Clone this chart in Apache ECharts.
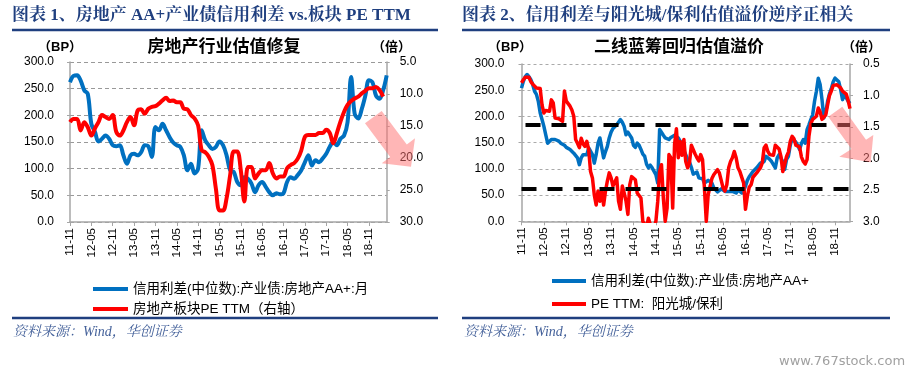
<!DOCTYPE html>
<html>
<head>
<meta charset="utf-8">
<script src="https://cdn.jsdelivr.net/npm/echarts@6/dist/echarts.min.js"></script>
<style>
html, body { margin: 0; padding: 0; background: #fff; }
#main { width: 916px; height: 375px; }
</style>
</head>
<body>
<div id="main"></div>
<script>
// 左图：月度，2011-11 起
var leftStart = [2011, 11];
var leftMonths = 90;
// 右图：半月，2011-11 起
var rightStart = [2011, 11];
var rightPoints = 177;

var tickLabels = ['11-11', '12-05', '12-11', '13-05', '13-11', '14-05', '14-11', '15-05',
		'15-11', '16-05', '16-11', '17-05', '17-11', '18-05', '18-11'];

// 图表1 信用利差(BP)
var spreadMonthly = [262, 274, 275, 265, 247, 240, 184, 169, 151, 156, 162, 156, 144, 142, 144,
		125, 109, 125, 128, 125, 131, 144, 142, 122, 178, 172, 184, 172, 159, 149, 144, 141, 125,
		97, 109, 91, 100, 172, 153, 144, 137, 141, 151, 144, 125, 97, 94, 75, 69, 84, 81, 72, 56,
		69, 75, 66, 56, 50, 54, 52, 54, 75, 84, 81, 88, 97, 112, 125, 106, 116, 112, 119, 128,
		141, 150, 144, 156, 162, 187, 272, 203, 194, 212, 237, 266, 262, 237, 231, 247, 275];
// 图表1 房地产板块 PE TTM (右轴)
var peSector = [14.4, 13.9, 13.9, 15.7, 14.4, 15.2, 16.5, 15.4, 14.4, 13.3, 13.6, 13.9, 13.3,
		15.9, 16.5, 15.7, 14.4, 13.6, 14.9, 12.6, 12.4, 13.1, 12.3, 12.0, 11.9, 11.5, 11.0, 10.6,
		11.1, 11.0, 11.3, 11.3, 12.3, 12.4, 13.3, 13.8, 14.9, 18.8, 19.1, 19.8, 21.1, 24.8, 28.2,
		28.2, 26.3, 22.7, 19.0, 19.0, 21.9, 26.8, 21.4, 21.4, 23.2, 22.4, 21.9, 21.9, 20.8, 22.4,
		23.2, 22.9, 22.9, 21.6, 21.1, 20.8, 20.1, 18.8, 16.7, 16.4, 16.4, 16.4, 16.1, 16.1, 15.6,
		16.1, 17.7, 16.1, 14.3, 12.8, 11.7, 11.1, 10.7, 10.4, 9.9, 9.5, 9.1, 9.1, 8.9, 9.4, 10.4,
		null];

// 图表2 信用利差(BP)，半月
var spreadHalf = [254, 267, 276, 280, 276, 270, 261, 248, 242, 229, 207, 194, 181, 165, 149,
		149, 156, 159, 156, 159, 153, 149, 146, 145, 141, 140, 137, 135, 130, 127, 121, 108, 121,
		127, 130, 127, 140, 143, 127, 111, 127, 149, 159, 140, 121, 133, 143, 159, 170, 177, 177,
		184, 189, 194, 189, 181, 165, 170, 167, 159, 145, 141, 149, 145, 137, 128, 124, 109, 102,
		107, 102, 105, 89, 73, 175, 178, 164, 159, 162, 156, 160, 159, 164, 167, 159, 153, 145,
		135, 127, 118, 113, 103, 90, 92, 94, 83, 80, 81, 73, 70, 78, 79, 73, 64, 60, 56, 54, 62,
		64, 57, 60, 57, 54, 57, 54, 54, 60, 58, 54, 58, 67, 78, 85, 88, 95, 92, 102, 105, 111, 108,
		114, 124, 127, 118, 114, 114, 102, 121, 127, 128, 114, 99, 118, 124, 145, 159, 160, 151,
		145, 137, 149, 156, 149, 175, 184, 194, 203, 229, 248, 273, 261, 232, 197, 207, 229, 243,
		253, 266, 273, 276, 266, 251, 232, 242, 245, 229, 225];
// 图表2 PE TTM：阳光城/保利 (右轴)
var peRatio = [0.80, 0.75, 0.71, 0.70, 0.71, 0.78, 0.82, 0.84, 0.88, 0.90, 0.89, 1.15, 1.28,
		1.24, 1.21, 1.25, 1.07, 1.12, 1.36, 1.38, 1.37, 1.37, 1.41, 0.93, 1.09, 1.12, 1.17, 1.23,
		1.33, 1.70, 1.76, 1.83, 1.68, 1.77, 1.81, 1.73, 1.86, 2.21, 2.31, 2.58, 2.74, 2.52, 2.68,
		2.52, 2.74, 2.52, 2.36, 2.23, 2.31, 2.44, 2.47, 2.31, 2.68, 2.81, 2.44, 2.55, 2.68, 2.89,
		2.42, 2.29, 2.26, 2.34, 2.55, 2.58, 2.63, 3.0, 3.05, 3.1, 2.95, 3.05, 3.2, 3.1, 3.0, 2.68,
		2.21, 2.10, 2.63, 3.0, 2.79, 1.94, 1.99, 2.79, 1.78, 1.53, 1.99, 1.73, 1.95, 1.70, 2.05,
		2.15, 2.07, 1.79, 1.82, 1.93, 1.99, 2.04, 1.94, 2.02, 2.47, 3.0, 2.58, 2.60, 2.32, 2.26,
		2.22, 2.18, 2.23, 2.25, 2.47, 2.52, 2.42, 2.15, 2.05, 1.99, 1.89, 1.99, 2.15, 2.21, 2.18,
		2.39, 2.81, 2.60, 2.46, 2.42, 2.30, 2.31, 2.23, 2.21, 2.15, 2.07, 1.83, 1.79, 1.89, 1.94,
		1.94, 1.95, 1.79, 1.76, 1.85, 1.97, 2.21, 2.23, 1.97, 1.90, 1.73, 1.65, 1.69, 1.79, 1.76,
		1.82, 1.98, 2.05, 2.09, 2.02, 1.65, 1.45, 1.38, 1.35, 1.33, 1.20, 1.26, 1.38, 1.41, 1.31,
		1.15, 1.00, 0.93, 0.84, 0.85, 0.83, 0.85, 0.88, 0.93, 0.91, 0.98, 1.08, 1.21];

// 两条估值溢价参考线(BP)
var refLevels = [185, 63];

var names1 = ['信用利差(中位数):产业债:房地产AA+:月', '房地产板块PE TTM（右轴）'];
var names2 = ['信用利差(中位数):产业债:房地产AA+', 'PE TTM:  阳光城/保利'];

function monthLabel(y, m) {
	return String(y).slice(2) + '-' + (m < 10 ? '0' + m : m);
}

var catsLeft = [];
for (var i = 0; i < leftMonths; i++) {
	var mm = leftStart[1] - 1 + i;
	catsLeft.push(monthLabel(leftStart[0] + Math.floor(mm / 12), mm % 12 + 1));
}
var catsRight = [];
for (var k = 0; k < rightPoints; k++) {
	var m2 = rightStart[1] - 1 + Math.floor(k / 2);
	var lab = monthLabel(rightStart[0] + Math.floor(m2 / 12), m2 % 12 + 1);
	catsRight.push(k % 2 === 0 ? lab : lab + '+');
}

var showTick = function(idx, val) {
	return tickLabels.indexOf(val) >= 0;
};

var FONT = "'Liberation Sans', 'Noto Sans CJK SC', sans-serif";
var BLUE = '#0070C0';
var RED = '#FF0000';

function xAxisCfg(gridIndex, cats) {
	return {
		type : 'category',
		gridIndex : gridIndex,
		data : cats,
		boundaryGap : false,
		axisLine : {
			lineStyle : {
				color : '#a6a6a6',
				width : 1.5
			}
		},
		axisTick : {
			interval : showTick,
			length : 4,
			lineStyle : {
				color : '#a6a6a6'
			}
		},
		axisLabel : {
			interval : showTick,
			rotate : 90,
			margin : 6,
			fontSize : 11.5,
			color : '#000',
			fontFamily : FONT
		},
		splitLine : {
			show : false
		}
	};
}

function yAxisCfg(gridIndex, pos, min, max, step, inverse, grid, margin) {
	return {
		type : 'value',
		gridIndex : gridIndex,
		position : pos,
		min : min,
		max : max,
		interval : step,
		inverse : inverse,
		axisLine : {
			show : true,
			lineStyle : {
				color : '#a6a6a6',
				width : 1.5
			}
		},
		axisTick : {
			show : true,
			length : 3,
			lineStyle : {
				color : '#a6a6a6'
			}
		},
		axisLabel : {
			margin : margin,
			fontSize : 12,
			color : '#000',
			fontFamily : FONT,
			formatter : function(v) {
				return v.toFixed(1);
			}
		},
		splitLine : {
			show : grid,
			lineStyle : {
				color : gridIndex === 0 ? '#999' : '#aaa',
				type : gridIndex === 0 ? [4, 3] : [3, 3],
				width : 1
			}
		}
	};
}

function txt(x, y, text, size, opts) {
	opts = opts || {};
	return {
		type : 'text',
		x : x,
		y : y,
		z : 10,
		style : {
			text : text,
			fontSize : size,
			fontWeight : opts.bold ? 'bold' : 'normal',
			fontStyle : opts.italic ? 'italic' : 'normal',
			fontFamily : opts.family || FONT,
			fill : opts.color || '#000',
			align : opts.align || 'left',
			verticalAlign : 'middle'
		}
	};
}

function rule(x1, x2, y) {
	return {
		type : 'line',
		z : 10,
		shape : {
			x1 : x1,
			y1 : y,
			x2 : x2,
			y2 : y
		},
		style : {
			stroke : '#1F3F7F',
			lineWidth : 2.5
		}
	};
}

function arrow(pts) {
	return {
		type : 'polygon',
		z : 20,
		shape : {
			points : pts
		},
		style : {
			fill : 'rgba(255, 110, 110, 0.5)'
		}
	};
}

var TITLE_FONT = "'Liberation Serif', 'Noto Serif CJK SC', 'Noto Sans CJK SC', serif";

var chartDom = document.getElementById('main');
var myChart = echarts.init(chartDom, null, {
	renderer : 'canvas'
});

var option = {
	animation : false,
	backgroundColor : '#fff',
	grid : [{
		left : 70,
		top : 62,
		width : 316.7,
		height : 160
	}, {
		left : 521.5,
		top : 64,
		width : 328.5,
		height : 157.3
	}],
	xAxis : [xAxisCfg(0, catsLeft), xAxisCfg(1, catsRight)],
	yAxis : [yAxisCfg(0, 'left', 0, 300, 50, false, true, 16),
			yAxisCfg(0, 'right', 5, 30, 5, true, false, 13),
			yAxisCfg(1, 'left', 0, 300, 50, false, true, 17),
			yAxisCfg(1, 'right', 0.5, 3.0, 0.5, true, false, 13)],
	legend : [{
		data : names1,
		orient : 'vertical',
		left : 88,
		top : 277,
		icon : 'rect',
		itemWidth : 35,
		itemHeight : 4,
		itemGap : 6,
		textStyle : {
			fontSize : 13.5,
			lineHeight : 14,
			color : '#000',
			fontFamily : FONT
		}
	}, {
		data : names2,
		orient : 'vertical',
		left : 547,
		top : 269,
		icon : 'rect',
		itemWidth : 34,
		itemHeight : 4,
		itemGap : 9,
		textStyle : {
			fontSize : 13.5,
			lineHeight : 14,
			color : '#000',
			fontFamily : FONT
		}
	}],
	series : [{
		name : names1[0],
		type : 'line',
		xAxisIndex : 0,
		yAxisIndex : 0,
		data : spreadMonthly,
		smooth : 0.35,
		showSymbol : false,
		color : BLUE,
		lineStyle : {
			width : 4,
			color : BLUE
		}
	}, {
		name : names1[1],
		type : 'line',
		xAxisIndex : 0,
		yAxisIndex : 1,
		data : peSector,
		smooth : 0.35,
		showSymbol : false,
		color : RED,
		lineStyle : {
			width : 4,
			color : RED
		}
	}, {
		name : names2[0],
		type : 'line',
		xAxisIndex : 1,
		yAxisIndex : 2,
		data : spreadHalf,
		showSymbol : false,
		color : BLUE,
		lineStyle : {
			width : 3.5,
			color : BLUE,
			join : 'round'
		},
		markLine : {
			silent : true,
			symbol : ['none', 'none'],
			label : {
				show : false
			},
			data : [{
				yAxis : refLevels[0],
				lineStyle : {
					color : '#000',
					width : 4,
					type : [15, 11],
					dashOffset : -4
				}
			}, {
				yAxis : refLevels[1],
				lineStyle : {
					color : '#000',
					width : 4,
					type : [15, 11],
					dashOffset : 0
				}
			}]
		}
	}, {
		name : names2[1],
		type : 'line',
		xAxisIndex : 1,
		yAxisIndex : 3,
		data : peRatio,
		showSymbol : false,
		color : RED,
		lineStyle : {
			width : 3.5,
			color : RED,
			join : 'round'
		}
	}],
	graphic : [
			txt(12, 16, '图表 1、房地产 AA+产业债信用利差 vs.板块 PE TTM', 17, {
				bold : true,
				color : '#1F3F7F',
				family : TITLE_FONT
			}),
			txt(462, 16, '图表 2、信用利差与阳光城/保利估值溢价逆序正相关', 17, {
				bold : true,
				color : '#1F3F7F',
				family : TITLE_FONT
			}),
			rule(12, 438, 30),
			rule(462, 890, 30),
			txt(224, 47, '房地产行业估值修复', 17, {
				bold : true,
				align : 'center'
			}),
			txt(38, 47, '（BP）', 13, {
				bold : true
			}),
			txt(372, 47, '（倍）', 13, {
				bold : true
			}),
			txt(679, 47, '二线蓝筹回归估值溢价', 17, {
				bold : true,
				align : 'center'
			}),
			txt(488, 47, '（BP）', 13, {
				bold : true
			}),
			txt(842, 47, '（倍）', 13, {
				bold : true
			}),
			rule(12, 438, 318),
			rule(462, 890, 318),
			txt(13, 332, '资料来源：Wind，华创证券', 14, {
				italic : true,
				color : '#44619A',
				family : TITLE_FONT
			}),
			txt(464, 332, '资料来源：Wind，华创证券', 14, {
				italic : true,
				color : '#44619A',
				family : TITLE_FONT
			}),
			txt(779, 362, 'www.767stock.com', 13, {
				color : '#a0a0a0',
				family : "'DejaVu Sans', sans-serif"
			}),
			arrow([[365, 123.3], [390.2, 156.9], [381.7, 163.3], [411, 166.7],
					[415, 138.3], [406.8, 144.5], [381.7, 111]]),
			arrow([[828.3, 116.7], [851.5, 149], [839.3, 156.7], [870.7, 162.3],
					[873.3, 135], [866, 139.7], [842.3, 106.7]])]
};

option && myChart.setOption(option);
</script>
</body>
</html>
